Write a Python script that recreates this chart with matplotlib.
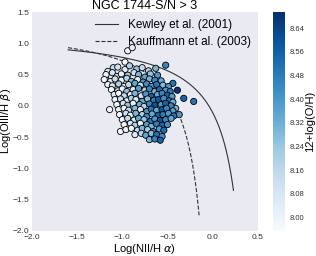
import numpy as np
import matplotlib
matplotlib.use("Agg")
import matplotlib.pyplot as plt

plt.rcParams["font.family"] = ["Liberation Sans", "DejaVu Sans"]

# NII/Ha, OIII/Hb and metallicity of each spaxel
log_nii = [
    -0.94, -0.89, -0.97, -0.52, -0.44, -0.39, -0.32, -0.21, -0.37, -0.41, -1.14, -1.18, -1.16, -1.10, -1.02,
    -1.05, -0.97, -0.92, -0.84, -0.78, -0.71, -0.63,
    -1.18, -1.11, -1.06, -1.01, -0.94, -0.87, -0.82, -0.75, -0.69, -0.61,
    -1.20, -1.13, -1.08, -1.01, -0.95, -0.90, -0.83, -0.77, -0.70, -0.64, -0.57,
    -1.16, -1.11, -1.04, -0.98, -0.93, -0.86, -0.80, -0.73, -0.68, -0.62, -0.55, -0.49,
    -1.12, -1.05, -1.00, -0.95, -0.88, -0.82, -0.75, -0.70, -0.64, -0.59, -0.52, -0.47,
    -1.09, -1.04, -0.98, -0.91, -0.86, -0.79, -0.74, -0.68, -0.61, -0.56, -0.50, -0.45,
    -1.08, -1.02, -0.95, -0.90, -0.85, -0.78, -0.72, -0.65, -0.60, -0.54, -0.48, -0.44,
    -1.06, -0.99, -0.94, -0.88, -0.81, -0.76, -0.70, -0.64, -0.57, -0.52, -0.46,
    -1.04, -0.98, -0.93, -0.86, -0.80, -0.73, -0.68, -0.62, -0.56, -0.51, -0.44,
    -1.03, -0.96, -0.91, -0.85, -0.78, -0.73, -0.67, -0.60, -0.55, -0.49, -0.43,
    -1.00, -0.94, -0.87, -0.82, -0.76, -0.69, -0.64, -0.58, -0.52, -0.46,
    -0.98, -0.91, -0.86, -0.80, -0.73, -0.68, -0.62, -0.56, -0.50,
    -0.96, -0.90, -0.83, -0.78, -0.72, -0.66, -0.59, -0.54,
    -0.86, -0.79, -0.74, -0.68, -0.62, -0.56,
    -0.70, -0.64, -0.58,
]
log_oiii = [
    0.88, 0.93, 0.70, 0.65, 0.36, 0.25, 0.12, 0.07, -0.14, -0.04, -0.06, 0.42, 0.55, 0.61, -0.41,
    0.62, 0.58, 0.64, 0.59, 0.61, 0.56, 0.60,
    0.50, 0.53, 0.47, 0.51, 0.49, 0.53, 0.50, 0.46, 0.51, 0.49,
    0.42, 0.39, 0.43, 0.41, 0.44, 0.39, 0.42, 0.38, 0.43, 0.41, 0.40,
    0.34, 0.32, 0.35, 0.31, 0.34, 0.36, 0.33, 0.35, 0.31, 0.34, 0.33, 0.31,
    0.26, 0.24, 0.27, 0.23, 0.26, 0.28, 0.25, 0.27, 0.23, 0.26, 0.25, 0.23,
    0.18, 0.20, 0.16, 0.18, 0.20, 0.16, 0.19, 0.15, 0.18, 0.20, 0.17, 0.15,
    0.10, 0.11, 0.08, 0.12, 0.10, 0.07, 0.11, 0.09, 0.10, 0.12, 0.08, 0.06,
    0.02, 0.04, 0.01, 0.04, 0.02, -0.01, 0.03, 0.01, 0.02, 0.04, 0.00,
    -0.06, -0.04, -0.07, -0.04, -0.06, -0.09, -0.05, -0.07, -0.06, -0.04, -0.08,
    -0.14, -0.12, -0.15, -0.12, -0.14, -0.17, -0.13, -0.15, -0.14, -0.12, -0.16,
    -0.22, -0.20, -0.23, -0.20, -0.22, -0.25, -0.21, -0.23, -0.22, -0.20,
    -0.30, -0.28, -0.31, -0.28, -0.30, -0.33, -0.29, -0.31, -0.30,
    -0.38, -0.36, -0.39, -0.36, -0.38, -0.41, -0.37, -0.39,
    -0.46, -0.44, -0.47, -0.44, -0.46, -0.49,
    -0.54, -0.53, -0.55,
]
oh = [
    7.97, 8.03, 7.96, 8.45, 8.50, 8.68, 8.55, 8.50, 8.40, 8.30, 8.00, 7.98, 8.05, 8.15, 7.98,
    8.10, 8.05, 8.20, 8.25, 8.15, 8.20, 8.30,
    8.02, 8.08, 8.15, 8.00, 8.22, 8.10, 8.30, 8.35, 8.25, 8.40,
    7.98, 8.05, 8.12, 7.99, 8.18, 8.28, 8.05, 8.40, 8.30, 8.45, 8.35,
    8.00, 8.08, 8.20, 8.02, 8.15, 8.35, 8.12, 8.42, 8.38, 8.50, 8.28, 8.40,
    7.98, 8.10, 8.00, 8.25, 8.05, 8.38, 8.20, 8.45, 8.30, 8.52, 8.40, 8.48,
    8.05, 7.97, 8.15, 8.02, 8.30, 8.10, 8.40, 8.55, 8.35, 8.45, 8.55, 8.38,
    8.00, 8.12, 7.98, 8.20, 8.08, 8.35, 8.28, 8.48, 8.58, 8.42, 8.50, 8.32,
    7.98, 8.08, 8.25, 8.00, 8.32, 8.18, 8.45, 8.60, 8.40, 8.55, 8.45,
    8.02, 7.97, 8.15, 8.28, 8.05, 8.40, 8.50, 8.35, 8.58, 8.45, 8.38,
    7.98, 8.10, 8.02, 8.30, 8.20, 8.45, 8.35, 8.55, 8.48, 8.40, 8.50,
    8.00, 8.15, 8.05, 8.35, 8.25, 8.50, 8.40, 8.60, 8.45, 8.35,
    7.97, 8.08, 8.20, 8.02, 8.38, 8.30, 8.48, 8.55, 8.42,
    8.00, 7.98, 8.12, 8.30, 8.22, 8.45, 8.38, 8.52,
    8.05, 8.18, 8.35, 8.28, 8.50, 8.42,
    8.30, 8.45, 8.55,
]

# demarcation lines
x_kew = np.linspace(-1.6, 0.23, 200)
y_kew = 0.61 / (x_kew - 0.47) + 1.19
x_kau = np.linspace(-1.6, -0.15, 200)
y_kau = 0.61 / (x_kau - 0.05) + 1.3

fig = plt.figure(figsize=(3.16, 2.56), dpi=100)
ax = fig.add_axes([0.101, 0.098, 0.715, 0.855])
cax = fig.add_axes([0.864, 0.098, 0.038, 0.855])
ax.set_facecolor("#EAEAF2")
for s in ax.spines.values():
    s.set_visible(False)

ax.plot(x_kew, y_kew, color="#333333", lw=0.8, label="Kewley et al. (2001)", zorder=1)
ax.plot(x_kau, y_kau, color="#333333", lw=0.8, ls="--", label="Kauffmann et al. (2003)", zorder=1)
sc = ax.scatter(log_nii, log_oiii, c=oh, cmap="Blues", vmin=7.955, vmax=8.695,
                s=20, edgecolors="black", linewidths=0.6, zorder=2)

ax.set_xlim(-2.0, 0.5)
ax.set_ylim(-2.0, 1.5)
ax.set_xticks(np.arange(-2.0, 0.51, 0.5))
ax.set_yticks(np.arange(-2.0, 1.51, 0.5))
ax.tick_params(labelsize=6, length=0, pad=2, colors="#333333")
ax.set_xlabel(r"Log(NII/H $\alpha$)", fontsize=8, labelpad=1)
ax.set_ylabel(r"Log(OIII/H $\beta$)", fontsize=8)
ax.yaxis.set_label_coords(-0.085, 0.5)
ax.set_title("NGC 1744-S/N > 3", fontsize=9, pad=2)
ax.legend(loc="upper right", frameon=False, fontsize=8.5, handlelength=2.0,
          borderaxespad=0.2, labelspacing=0.45)

cb = fig.colorbar(sc, cax=cax)
cb.set_ticks(np.arange(8.00, 8.65, 0.08))
cb.ax.set_yticklabels(["%.2f" % t for t in np.arange(8.00, 8.65, 0.08)])
cb.outline.set_visible(False)
cb.ax.tick_params(labelsize=5.5, length=0, pad=3, colors="#333333")
cb.set_label("12+log(O/H)", fontsize=8, labelpad=1)

fig.savefig("out.png", dpi=100)
